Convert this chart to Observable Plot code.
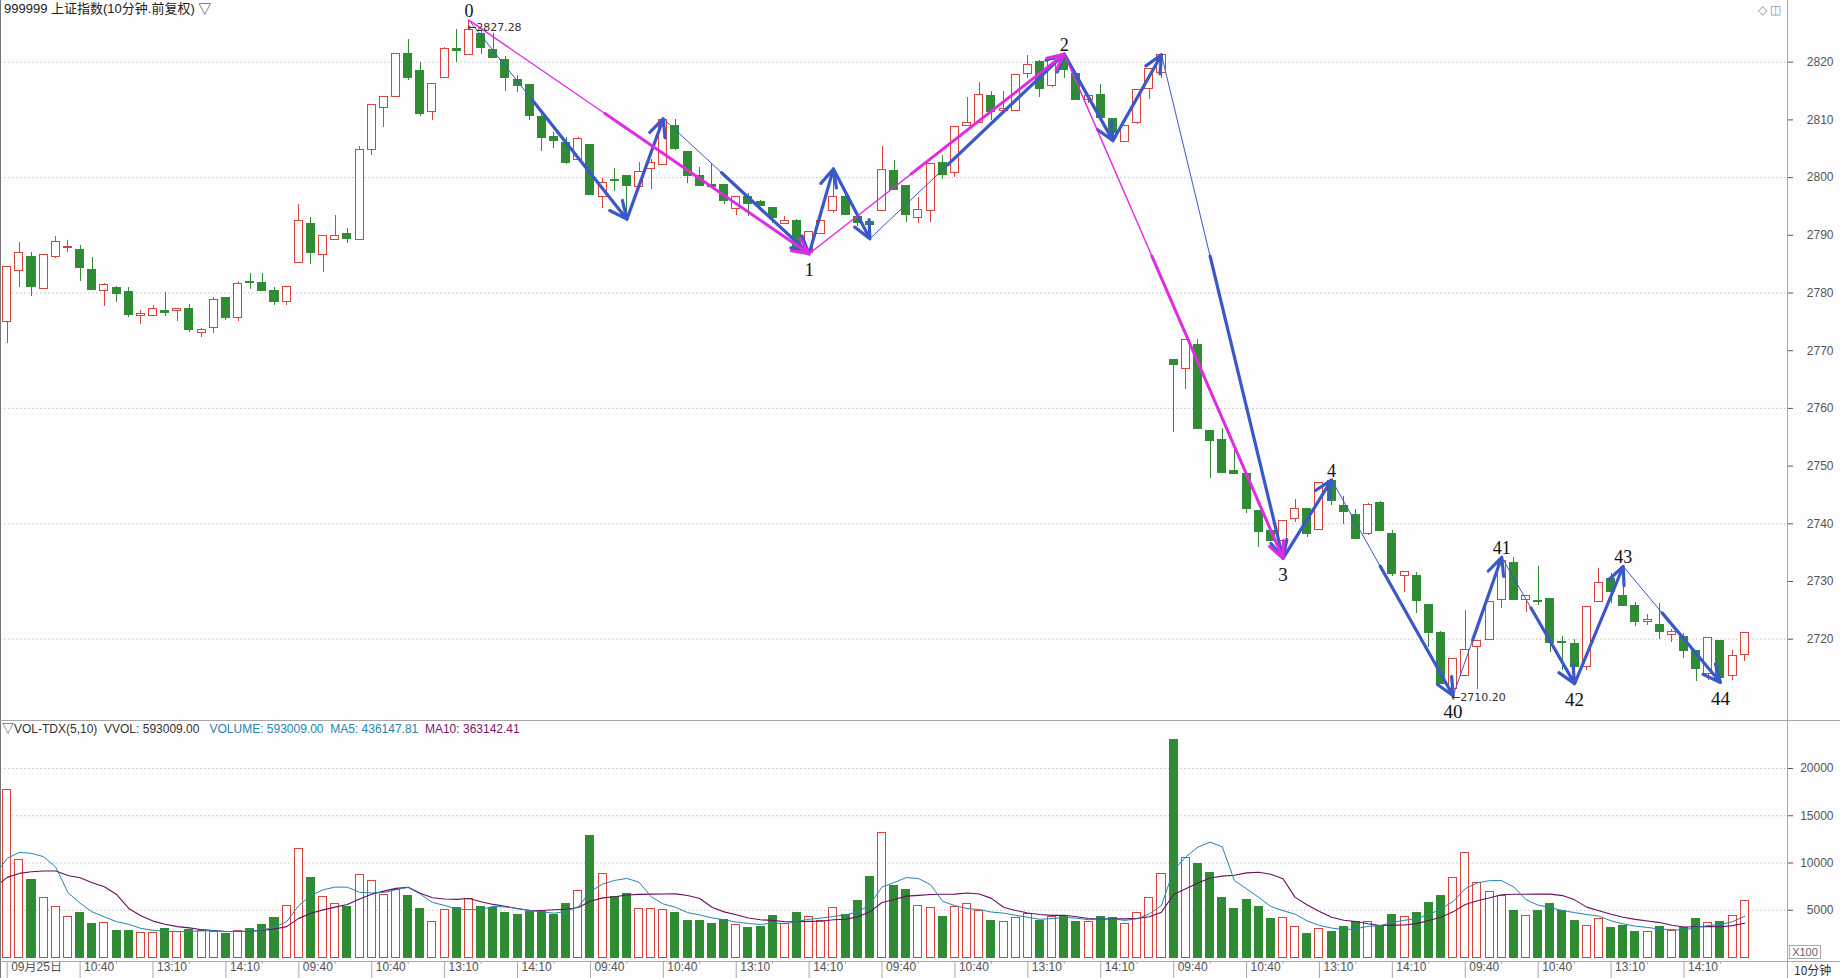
<!DOCTYPE html>
<html><head><meta charset="utf-8">
<script src="https://cdn.jsdelivr.net/npm/d3@7"></script>
<script src="https://cdn.jsdelivr.net/npm/@observablehq/plot@0.6"></script>
<style>
html,body{margin:0;padding:0;background:#fdfdfd;}
#wrap{position:relative;width:1840px;height:978px;overflow:hidden;background:#fdfdfd;font-family:"Liberation Sans",Arial,sans-serif;}
#price,#vol{position:absolute;left:0;}
#price{top:0;} #vol{top:720px;}
.t{position:absolute;white-space:nowrap;font-size:12px;line-height:14px;}
.ln{position:absolute;background:#a8a8a8;}
</style></head>
<body><div id="wrap">
<div id="price"></div><div id="vol"></div>
<div class="ln" style="left:0;top:0;width:1px;height:978px;background:#777"></div>
<div class="ln" style="left:1787px;top:0;width:1px;height:978px;"></div>
<div class="ln" style="left:0;top:720px;width:1840px;height:1px;"></div>
<div class="ln" style="left:0;top:961px;width:1840px;height:1px;"></div>
<div class="t" style="left:4px;top:2px;font-size:13px;color:#222;font-family:'Liberation Sans','Noto Sans CJK SC',sans-serif">999999 上证指数(10分钟.前复权) ▽</div>
<div class="t" style="left:1758px;top:3px;color:#999;font-size:12px">◇ ◫</div>
<div class="t" style="left:2px;top:722px;font-family:'Liberation Sans','Noto Sans CJK SC',sans-serif"><span style="color:#333">▽VOL-TDX(5,10)&nbsp; VVOL: 593009.00</span>&nbsp;&nbsp;&nbsp;<span style="color:#1f86b0">VOLUME: 593009.00&nbsp; MA5: 436147.81</span>&nbsp;&nbsp;<span style="color:#7a1468">MA10: 363142.41</span></div>
<div class="t" style="left:1789px;top:945px;width:30px;height:12px;border:1px solid #aaa;font-size:11px;line-height:12px;color:#666;text-align:center">X100</div>
<div class="t" style="left:1794px;top:963px;color:#333;font-family:'Noto Sans CJK SC',sans-serif;font-size:12px">10分钟</div>
</div>
<script>
// ---------- data (10-minute bars, 6 trading days x 24 bars) ----------
const opens = [
2774.9,2783.8,2786.3,2780.7,2786.3,2787.8,2787.5,2784.0,2780.3,2780.9,2780.2,2776.0,2776.0,2776.9,2776.8,2777.2,2773.0,2773.9,2779.2,2775.7,2781.9,2781.7,2780.4,2778.4,
2785.2,2792.0,2786.6,2789.2,2790.2,2789.2,2804.8,2812.1,2813.9,2821.4,2818.4,2811.4,2817.3,2822.2,2821.3,2824.9,2822.1,2820.4,2816.9,2816.0,2810.5,2807.1,2806.0,2803.1,
2805.7,2796.6,2799.6,2800.2,2798.4,2801.5,2802.2,2809.0,2804.5,2800.2,2798.7,2798.8,2794.6,2796.6,2795.7,2794.7,2792.0,2792.5,2786.9,2790.2,2794.2,2796.6,2793.2,2792.3,
2794.2,2801.2,2798.6,2793.0,2794.2,2802.5,2800.8,2808.9,2809.4,2814.2,2811.5,2811.6,2817.9,2820.0,2815.8,2820.3,2817.9,2813.5,2814.3,2810.1,2806.2,2809.4,2815.4,2818.1,
2768.4,2766.9,2771.0,2756.1,2754.6,2749.1,2748.7,2742.3,2738.7,2737.0,2740.8,2742.5,2738.9,2747.4,2743.1,2741.5,2738.2,2743.6,2738.3,2731.0,2731.0,2726.0,2721.0,2711.3,
2713.7,2718.7,2719.9,2726.8,2733.2,2726.8,2726.6,2727.0,2719.6,2719.1,2715.1,2726.4,2730.4,2727.4,2725.8,2722.9,2722.5,2720.7,2720.4,2718.0,2713.9,2719.7,2713.6,2717.3];
const highs = [
2784.5,2788.8,2787.1,2786.6,2789.8,2789.1,2788.2,2786.1,2781.7,2781.1,2780.9,2776.9,2777.8,2780.1,2777.2,2778.0,2773.8,2779.2,2779.2,2782.0,2783.3,2783.4,2781.0,2781.1,
2795.3,2793.1,2789.8,2793.4,2791.1,2805.4,2812.6,2813.9,2821.4,2824.0,2819.9,2816.2,2822.6,2825.6,2827.28,2825.8,2824.9,2821.0,2817.7,2816.0,2811.0,2807.9,2806.9,2806.9,
2805.7,2799.9,2801.5,2800.2,2802.7,2803.2,2810.2,2810.0,2804.5,2801.8,2802.5,2798.8,2796.6,2797.2,2796.1,2794.9,2793.2,2792.8,2790.6,2792.5,2801.5,2797.2,2793.2,2792.8,
2805.4,2802.9,2798.6,2796.6,2802.3,2803.8,2808.8,2813.9,2816.5,2815.0,2815.0,2817.7,2821.2,2820.3,2820.3,2821.4,2817.9,2814.1,2816.1,2810.1,2809.0,2815.2,2818.8,2821.3,
2768.4,2771.8,2772.0,2756.1,2756.5,2753.5,2748.7,2742.3,2738.7,2740.5,2744.2,2742.5,2747.1,2747.6,2744.8,2742.5,2743.5,2743.9,2738.8,2731.7,2731.6,2726.0,2721.4,2716.5,
2724.9,2719.7,2726.4,2734.2,2734.1,2727.4,2732.6,2727.0,2720.4,2720.0,2725.6,2732.3,2731.4,2732.6,2726.4,2724.2,2726.2,2721.7,2721.0,2718.0,2720.2,2719.7,2718.0,2721.0];
const lows = [
2771.3,2781.0,2779.4,2780.6,2785.9,2787.0,2782.0,2780.6,2777.7,2778.4,2775.8,2774.5,2776.0,2776.0,2775.1,2773.2,2772.2,2772.9,2775.3,2775.1,2780.6,2780.3,2777.8,2777.9,
2785.2,2784.9,2783.6,2789.2,2788.5,2789.2,2803.8,2808.7,2813.9,2816.8,2810.6,2809.9,2817.3,2819.9,2821.3,2821.4,2820.8,2815.0,2814.8,2809.9,2804.6,2805.1,2802.3,2803.1,
2797.0,2794.6,2797.6,2792.8,2798.4,2797.9,2802.2,2804.7,2799.0,2798.5,2798.2,2795.3,2793.4,2793.2,2795.0,2792.1,2792.0,2787.3,2786.8,2790.2,2793.7,2793.5,2791.5,2789.4,
2794.2,2797.9,2792.3,2792.1,2792.3,2799.7,2800.1,2808.9,2809.4,2809.9,2811.5,2811.6,2817.1,2813.9,2815.6,2817.1,2813.5,2812.8,2810.3,2806.4,2806.2,2809.2,2813.6,2817.1,
2755.8,2763.2,2756.5,2747.9,2748.8,2748.7,2741.7,2735.9,2737.0,2734.0,2740.3,2737.7,2738.9,2743.2,2739.9,2737.3,2737.9,2738.6,2730.8,2728.1,2724.5,2718.6,2712.2,2710.2,
2713.7,2711.3,2719.9,2725.4,2726.8,2724.6,2725.8,2717.7,2714.5,2712.3,2714.5,2726.4,2726.2,2725.7,2722.2,2722.3,2720.0,2719.4,2716.7,2712.6,2712.9,2712.5,2712.8,2716.1];
const closes = [
2784.5,2786.9,2781.0,2786.5,2788.9,2788.0,2784.3,2780.6,2781.4,2779.8,2776.1,2776.4,2777.2,2776.5,2777.2,2773.6,2773.5,2778.8,2775.7,2781.6,2781.7,2780.3,2778.4,2781.1,
2792.4,2786.9,2789.8,2789.9,2789.4,2804.8,2812.6,2813.9,2821.4,2817.3,2811.0,2816.2,2822.3,2822.0,2825.6,2822.4,2820.8,2817.3,2815.8,2810.6,2806.9,2806.4,2802.5,2806.7,
2797.0,2799.1,2799.4,2798.5,2800.9,2802.5,2810.0,2805.0,2800.2,2798.5,2798.4,2796.0,2796.6,2795.5,2795.0,2793.0,2792.5,2787.6,2790.6,2792.5,2796.6,2793.5,2792.1,2791.8,
2801.3,2797.9,2793.5,2794.3,2802.3,2800.5,2808.8,2809.4,2814.3,2811.3,2811.9,2817.7,2819.5,2815.4,2820.3,2818.7,2813.5,2814.1,2810.3,2807.7,2809.0,2815.2,2818.8,2821.3,
2767.5,2771.8,2756.5,2754.4,2748.8,2748.7,2742.5,2738.5,2737.0,2740.5,2742.5,2738.3,2747.1,2743.9,2742.1,2737.4,2743.2,2738.7,2731.3,2731.6,2726.6,2721.0,2712.2,2716.5,
2718.1,2719.7,2726.4,2733.6,2726.8,2727.4,2726.4,2719.4,2719.4,2715.2,2725.6,2729.7,2728.1,2725.7,2722.9,2723.4,2721.3,2721.2,2717.9,2714.8,2720.2,2713.2,2717.1,2721.0];
// volume in units of 100 (axis shows X100)
const volumes = [
17700,10300,8200,6270,5300,4260,4720,3560,3630,2820,2820,2570,2570,3030,2680,2920,2850,2750,2500,2850,3030,3450,4190,5420,
11440,8410,6370,5630,5350,8690,8100,6620,7150,6510,5140,3730,5030,5240,6160,5320,5280,4720,4500,4860,4860,4500,5670,7040,
12850,8800,6440,6690,5100,5100,5000,4680,3870,3870,3560,3980,3450,3170,3270,4400,3560,4680,4330,3910,5210,4500,5980,8480,
13130,7570,7150,5460,5210,4290,5320,5630,4930,3870,3730,4150,4580,3870,4260,4330,3800,3730,4330,4220,3560,4680,6270,8800,
22990,10490,9860,8900,6340,5140,6090,5350,4080,4150,3240,2500,2990,2710,3240,3800,3730,3380,4500,4260,4720,5770,6510,8380,
11020,7850,6900,6550,4930,4360,4930,5670,4930,3870,3340,4080,3170,3340,2650,2650,3250,2850,3100,4050,3650,3800,4380,5930];
// the 9 bars before the window (not drawn), estimated from where the MA lines start
const prevVolumes = [6100,6400,5570,5300,8980,7150,8700,8020,10880];

// zigzag pivots (bar index; alternate high / low, first one a high)
const blueIdx = [38,51,54,66,68,71,87,91,95,105,109,119,123,129,133,141];
const magentaIdx = [38,66,87,105];
const pivotIdx = [38,66,87,105,109,119,123,129,133,141];
const pivotText = ["0","1","2","3","4","40","41","42","43","44"];
const pivotIsHigh = [true,false,true,false,true,false,true,false,true,false];
const extremeIdx = [38,119];
const extremeText = ["←2827.28","←2710.20"];
const extremeIsHigh = [true,false];

// axes
const priceTicks = [2720,2730,2740,2750,2760,2770,2780,2790,2800,2810,2820];
const priceGrid = [2720,2740,2760,2780,2800,2820];
const volTicks = [5000,10000,15000,20000];
const xTickIdx = [0,6,12,18,24,30,36,42,48,54,60,66,72,78,84,90,96,102,108,114,120,126,132,138];
const xTickText = ["09月25日","10:40","13:10","14:10","09:40","10:40","13:10","14:10","09:40","10:40","13:10","14:10",
                   "09:40","10:40","13:10","14:10","09:40","10:40","13:10","14:10","09:40","10:40","13:10","14:10"];
const xMinorIdx = [3,9,15,21,27,33,39,45,51,57,63,69,75,81,87,93,99,105,111,117,123,129,135,141];

// ---------- layout / style ----------
const RED = "#d8433c", GREEN = "#2f8c35", BG = "#fdfdfd";
const BLUE = "#3a58c8", MAG = "#e02ce0";
const MA5C = "#2585b0", MA10C = "#6a1060";
const X_DOMAIN = [-0.551, 146.52];
const Y_DOMAIN = [2705.91, 2830.69];
const PLOT_W = 1787, PRICE_H = 720;
const PXB = PLOT_W / (X_DOMAIN[1] - X_DOMAIN[0]);
const PXP = PRICE_H / (Y_DOMAIN[1] - Y_DOMAIN[0]);
const HALF = 0.33;
const plain = d => String(d);

const bars = opens.map((o, i) => ({i, o, h: highs[i], l: lows[i], c: closes[i], v: volumes[i], up: closes[i] >= o}));
const col = d => d.up ? RED : GREEN;

function pivots(idxs) {
  return idxs.map((i, k) => [i, k % 2 === 0 ? highs[i] : lows[i]]);
}
function thickParts(pts) {
  return d3.pairs(pts).map(([a, b]) => {
    const len = Math.hypot((b[0] - a[0]) * PXB, (b[1] - a[1]) * PXP);
    const f = len < 130 ? 1 : 0.6;
    return {x1: b[0] - f * (b[0] - a[0]), y1: b[1] - f * (b[1] - a[1]), x2: b[0], y2: b[1]};
  });
}
const bluePts = pivots(blueIdx);
const magPts = pivots(magentaIdx);
const pivotRows = pivotIdx.map((i, k) => ({i, t: pivotText[k], hi: pivotIsHigh[k], p: pivotIsHigh[k] ? highs[i] : lows[i]}));
const extremeRows = extremeIdx.map((i, k) => ({i, t: extremeText[k], hi: extremeIsHigh[k], p: extremeIsHigh[k] ? highs[i] : lows[i]}));
const serif = "'Liberation Serif','DejaVu Serif',serif";
const smallFont = "'DejaVu Sans','Liberation Sans',sans-serif";

const pricePlot = Plot.plot({
  width: 1840, height: PRICE_H,
  marginLeft: 0, marginRight: 1840 - PLOT_W, marginTop: 0, marginBottom: 0,
  x: {domain: X_DOMAIN, axis: null},
  y: {domain: Y_DOMAIN, axis: null},
  color: {type: "identity"},
  style: {background: "transparent", color: "#555", fontFamily: "'Liberation Sans',Arial,sans-serif", fontSize: "12px", overflow: "visible"},
  marks: [
    Plot.ruleY(priceGrid, {stroke: "#c2c2c2", strokeDasharray: "1.5,2.5"}),
    Plot.ruleX(bars, {x: "i", y1: "l", y2: "h", stroke: col, strokeWidth: 1, shapeRendering: "crispEdges"}),
    Plot.rect(bars, {x1: d => d.i - HALF, x2: d => d.i + HALF, y1: "o", y2: "c", fill: d => d.up ? BG : GREEN, stroke: col, strokeWidth: 1, shapeRendering: "crispEdges"}),
    Plot.line(bluePts, {x: d => d[0], y: d => d[1], stroke: BLUE, strokeWidth: 1}),
    Plot.arrow(thickParts(bluePts), {x1: "x1", y1: "y1", x2: "x2", y2: "y2", stroke: BLUE, strokeWidth: 3.2, headLength: 9, headAngle: 50}),
    Plot.line(magPts, {x: d => d[0], y: d => d[1], stroke: MAG, strokeWidth: 1.4}),
    Plot.arrow(thickParts(magPts), {x1: "x1", y1: "y1", x2: "x2", y2: "y2", stroke: MAG, strokeWidth: 3, headLength: 9, headAngle: 50}),
    Plot.text(pivotRows.filter(d => d.hi), {x: "i", y: "p", text: "t", dy: -9, fill: "#111", fontSize: 18, fontFamily: serif}),
    Plot.text(pivotRows.filter(d => !d.hi), {x: "i", y: "p", text: "t", dy: 16, fill: "#111", fontSize: 19, fontFamily: serif}),
    Plot.text(extremeRows.filter(d => d.hi), {x: "i", y: "p", text: "t", textAnchor: "start", dx: -2, dy: 7, fill: "#333", fontSize: 11, fontFamily: smallFont}),
    Plot.text(extremeRows.filter(d => !d.hi), {x: "i", y: "p", text: "t", textAnchor: "start", dx: -2, dy: 2, fill: "#333", fontSize: 11, fontFamily: smallFont}),
    Plot.axisY({anchor: "right", ticks: priceTicks, tickFormat: plain, tickSize: 5, tickPadding: 41, textAnchor: "end", label: null, fontSize: 12})
  ]
});
document.getElementById("price").append(pricePlot);

const volSeries = prevVolumes.map((v, k) => ({i: k - prevVolumes.length, v})).concat(bars.map(d => ({i: d.i, v: d.v})));

const volPlot = Plot.plot({
  width: 1840, height: 258,
  marginLeft: 0, marginRight: 1840 - PLOT_W, marginTop: 0, marginBottom: 17,
  x: {domain: X_DOMAIN, axis: null},
  y: {domain: [-423, 25080], axis: null},
  color: {type: "identity"},
  style: {background: "transparent", color: "#555", fontFamily: "'Liberation Sans',Arial,sans-serif", fontSize: "12px", overflow: "visible"},
  marks: [
    Plot.ruleY(volTicks, {stroke: "#c2c2c2", strokeDasharray: "1.5,2.5"}),
    Plot.rect(bars, {x1: d => d.i - HALF, x2: d => d.i + HALF, y1: 0, y2: "v", fill: d => d.up ? BG : GREEN, stroke: col, strokeWidth: 1, shapeRendering: "crispEdges"}),
    Plot.lineY(volSeries, Plot.windowY({k: 10, anchor: "end", reduce: "mean"}, {x: "i", y: "v", stroke: MA10C, strokeWidth: 1.1, clip: true})),
    Plot.lineY(volSeries, Plot.windowY({k: 5, anchor: "end", reduce: "mean"}, {x: "i", y: "v", stroke: MA5C, strokeWidth: 1, clip: true})),
    Plot.axisY({anchor: "right", ticks: volTicks, tickFormat: plain, tickSize: 5, tickPadding: 41, textAnchor: "end", label: null, fontSize: 12}),
    Plot.axisX({ticks: xTickIdx, tickSize: 17, tickFormat: () => "", label: null, stroke: "#aaa"}),
    Plot.axisX({ticks: xMinorIdx, tickSize: 3, tickFormat: () => "", label: null, stroke: "#aaa"}),
    Plot.text(xTickIdx, {x: d => d, text: (d, k) => xTickText[k], frameAnchor: "bottom", dy: 9, dx: 4, textAnchor: "start", fill: "#555", fontSize: 12, fontFamily: "'Liberation Sans','Noto Sans CJK SC',sans-serif"})
  ]
});
document.getElementById("vol").append(volPlot);
</script>
</body></html>
